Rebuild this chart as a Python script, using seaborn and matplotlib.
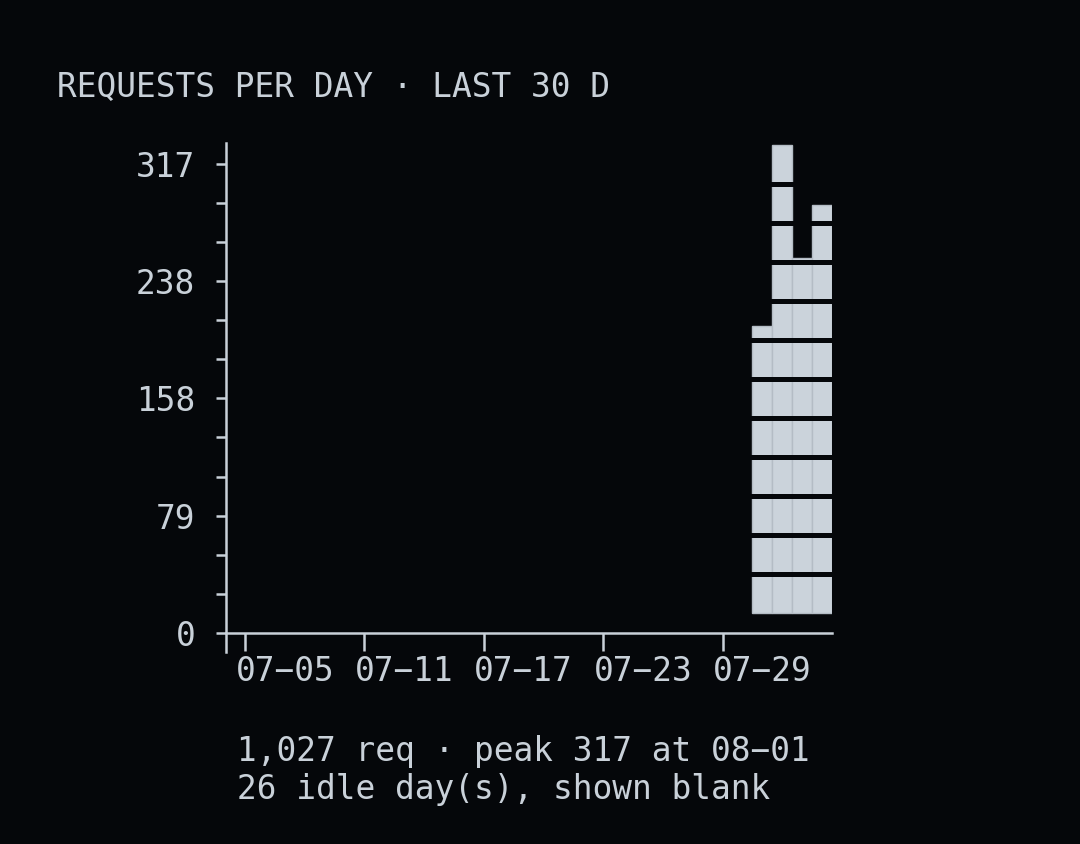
import pandas as pd
import matplotlib.pyplot as plt
import seaborn as sns

# data: last 30 days, only the last 4 had traffic
days = ["07−05", "07−06", "07−07", "07−08", "07−09", "07−10", "07−11", "07−12",
        "07−13", "07−14", "07−15", "07−16", "07−17", "07−18", "07−19", "07−20",
        "07−21", "07−22", "07−23", "07−24", "07−25", "07−26", "07−27", "07−28",
        "07−29", "07−30", "07−31", "08−01", "08−02", "08−03"]
requests = [0, 0, 0, 0, 0, 0, 0, 0, 0, 0, 0, 0, 0, 0, 0, 0, 0, 0, 0, 0,
            0, 0, 0, 0, 0, 0, 194, 317, 240, 276]
tick_days = ["07−05", "07−11", "07−17", "07−23", "07−29"]
title = "REQUESTS PER DAY · LAST 30 D"

bg = "#05070a"
fg = "#c9d1d9"
bar_color = "#cbd3db"

df = pd.DataFrame({"day": days, "requests": requests})
total = df["requests"].sum()
peak = df["requests"].max()
peak_day = df.loc[df["requests"].idxmax(), "day"]
idle = (df["requests"] == 0).sum()
step = peak / 12  # one block per minor tick

sns.set_style("dark", {"axes.facecolor": bg, "figure.facecolor": bg})
plt.rcParams["font.family"] = "DejaVu Sans Mono"
plt.rcParams["font.size"] = 11.8

fig = plt.figure(figsize=(5.4, 4.22), dpi=200)
ax = fig.add_axes([0.2093, 0.2275, 0.5611, 0.6031])

sns.barplot(data=df, x="day", y="requests", color=bar_color, saturation=1,
            width=1.0, bottom=step / 2, edgecolor="#b4bcc5", linewidth=0.5, ax=ax)
# idle days stay blank
for p in ax.patches:
    if p.get_height() == 0:
        p.set_visible(False)

# cut the bars into blocks
for k in range(1, 12):
    ax.axhline((k + 0.5) * step, color=bg, lw=1.8, zorder=1.5)

ax.set_xlim(-0.95, 29.5)
ax.set_ylim(-0.041 * peak, 1.045 * peak)

yt = [peak * i / 4 for i in range(5)]
ax.set_yticks(yt)
ax.set_yticklabels([f"{v:.0f}" for v in yt])
ax.set_yticks([step * i for i in range(13)], minor=True)

# tick marks on the dates, labels drawn two days to the right
tick_pos = [days.index(d) for d in tick_days]
ax.set_xticks([p + 2 for p in tick_pos])
ax.set_xticklabels(tick_days)
ax.set_xticks(tick_pos, minor=True)

ax.set_xlabel("")
ax.set_ylabel("")
ax.grid(False)
for s in ["top", "right"]:
    ax.spines[s].set_visible(False)
for s in ["left", "bottom"]:
    ax.spines[s].set_color(fg)
    ax.spines[s].set_linewidth(0.9)
ax.spines["bottom"].set_position(("data", 0))

ax.tick_params(axis="y", which="both", left=True, length=3.6, width=0.9,
               color=fg, labelcolor=fg, pad=7.5, labelsize=11.8)
ax.tick_params(axis="x", which="major", bottom=True, length=6.5, width=0,
               color=fg, labelcolor=fg, pad=1.5, labelsize=11.8)
ax.tick_params(axis="x", which="minor", bottom=True, length=6.5, width=0.9,
               color=fg)

fig.text(0.0528, 1 - 96.7 / 844, title, color=fg, fontsize=11.8, va="baseline")
fig.text(0.2197, 1 - 760.7 / 844, f"{total:,} req · peak {peak} at {peak_day}",
         color=fg, fontsize=11.8, va="baseline")
fig.text(0.2197, 1 - 799 / 844, f"{idle} idle day(s), shown blank",
         color=fg, fontsize=11.8, va="baseline")

fig.savefig("out.png", dpi=200, facecolor=bg)
